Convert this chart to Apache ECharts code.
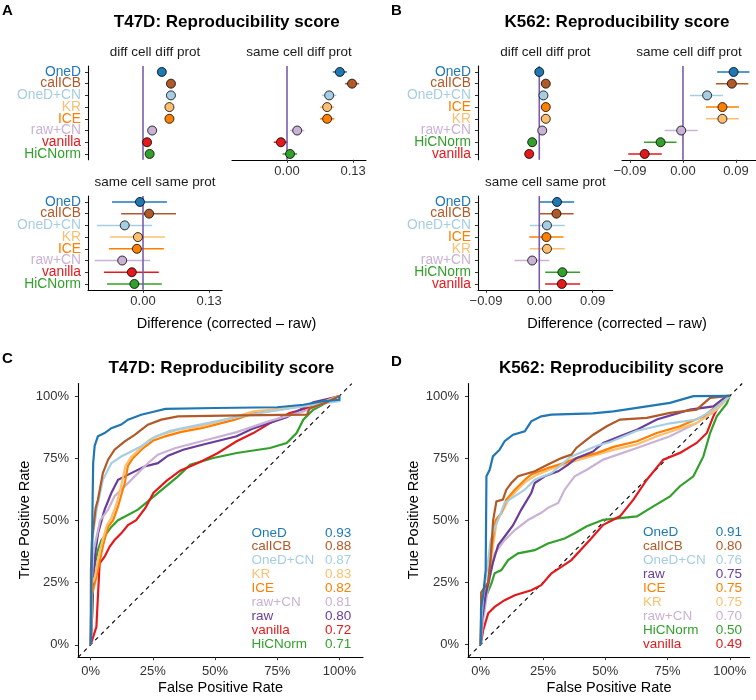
<!DOCTYPE html>
<html>
<head>
<meta charset="utf-8">
<script src="https://cdn.jsdelivr.net/npm/echarts@6.0.0/dist/echarts.min.js"></script>
<style>
  html, body { margin: 0; padding: 0; background: #fff; }
  #chart { width: 756px; height: 700px; }
</style>
</head>
<body>
<div id="chart"></div>
<script>
const FONT = '"Liberation Sans", Arial, sans-serif'

// colours per method (style, not data)
const methodColor = {
  'OneD': '#1f78b4', 'calICB': '#b15928', 'OneD+CN': '#a6cee3', 'KR': '#fdbf6f',
  'ICE': '#ff7f00', 'raw+CN': '#cab2d6', 'raw': '#6a3d9a', 'vanilla': '#e31a1c', 'HiCNorm': '#33a02c'
}

// ---- panel A : T47D differences ----
const aCats = ['OneD', 'calICB', 'OneD+CN', 'KR', 'ICE', 'raw+CN', 'vanilla', 'HiCNorm']
const aDiffDiff = [0.037, 0.055, 0.055, 0.052, 0.052, 0.018, 0.008, 0.013]
const aSameDiff = [0.104, 0.128, 0.083, 0.079, 0.079, 0.020, -0.012, 0.006]
const aSameDiffLo = [0.090, 0.114, 0.069, 0.065, 0.065, 0.006, -0.026, -0.009]
const aSameDiffHi = [0.118, 0.142, 0.097, 0.093, 0.093, 0.034, 0.002, 0.020]
const aSameSame = [-0.006, 0.012, -0.036, -0.010, -0.012, -0.041, -0.022, -0.017]
const aSameSameLo = [-0.061, -0.043, -0.091, -0.065, -0.067, -0.095, -0.077, -0.071]
const aSameSameHi = [0.047, 0.065, 0.018, 0.043, 0.041, 0.014, 0.031, 0.037]
const aTicks = [0, 0.13]

// ---- panel B : K562 differences ----
const bCats = ['OneD', 'calICB', 'OneD+CN', 'ICE', 'KR', 'raw+CN', 'HiCNorm', 'vanilla']
const bDiffDiff = [0.000, 0.011, 0.007, 0.011, 0.011, 0.005, -0.012, -0.017]
const bSameDiff = [0.086, 0.083, 0.041, 0.067, 0.067, -0.003, -0.038, -0.065]
const bSameDiffLo = [0.058, 0.056, 0.012, 0.039, 0.039, -0.031, -0.066, -0.093]
const bSameDiffHi = [0.113, 0.111, 0.068, 0.095, 0.095, 0.025, -0.011, -0.036]
const bSameSame = [0.030, 0.029, 0.013, 0.012, 0.013, -0.012, 0.039, 0.038]
const bSameSameLo = [0.000, 0.000, -0.016, -0.017, -0.016, -0.042, 0.010, 0.010]
const bSameSameHi = [0.059, 0.058, 0.043, 0.041, 0.043, 0.017, 0.069, 0.069]
const bTicks = [-0.09, 0, 0.09]

// ---- panel C : T47D ROC curves [fpr, tpr] ----
const cOneD = [[0,0],[0.004,0.30],[0.008,0.60],[0.010,0.73],[0.016,0.80],[0.029,0.838],[0.056,0.851],[0.083,0.871],[0.123,0.885],[0.15,0.905],[0.203,0.925],[0.257,0.938],[0.30,0.948],[0.5,0.952],[0.75,0.955],[0.855,0.965],[0.935,0.979],[1.0,0.985],[1,1]]
const cCalICB = [[0,0],[0.001,0.30],[0.005,0.42],[0.02,0.55],[0.029,0.583],[0.049,0.69],[0.07,0.744],[0.096,0.784],[0.137,0.818],[0.177,0.844],[0.23,0.885],[0.284,0.905],[0.351,0.918],[0.6,0.922],[0.87,0.925],[0.88,0.95],[0.95,0.975],[1,1]]
const cOneDCN = [[0,0],[0.003,0.25],[0.01,0.45],[0.025,0.55],[0.04,0.62],[0.049,0.663],[0.083,0.73],[0.123,0.757],[0.163,0.777],[0.203,0.798],[0.257,0.835],[0.32,0.86],[0.391,0.875],[0.5,0.897],[0.587,0.915],[0.721,0.938],[0.855,0.958],[0.97,0.975],[1,0.98],[1,1]]
const cKR = [[0,0],[0.003,0.24],[0.017,0.273],[0.029,0.34],[0.045,0.41],[0.065,0.48],[0.083,0.51],[0.105,0.57],[0.125,0.65],[0.14,0.72],[0.163,0.755],[0.2,0.79],[0.237,0.825],[0.284,0.845],[0.351,0.865],[0.453,0.88],[0.587,0.918],[0.654,0.938],[0.788,0.952],[0.922,0.972],[1,1]]
const cICE = [[0,0],[0.005,0.2],[0.023,0.273],[0.035,0.33],[0.05,0.40],[0.07,0.474],[0.09,0.50],[0.11,0.556],[0.137,0.65],[0.15,0.72],[0.17,0.75],[0.21,0.79],[0.25,0.82],[0.3,0.838],[0.36,0.855],[0.45,0.872],[0.58,0.905],[0.654,0.93],[0.788,0.95],[0.922,0.97],[1,1]]
const cRawCN = [[0,0],[0.003,0.06],[0.005,0.25],[0.009,0.367],[0.038,0.5],[0.07,0.543],[0.096,0.597],[0.15,0.65],[0.23,0.73],[0.27,0.764],[0.338,0.79],[0.453,0.82],[0.587,0.855],[0.721,0.9],[0.855,0.938],[0.96,0.98],[1,1]]
const cRaw = [[0,0],[0.004,0.07],[0.01,0.25],[0.02,0.38],[0.03,0.45],[0.056,0.543],[0.083,0.61],[0.11,0.663],[0.163,0.69],[0.217,0.717],[0.27,0.73],[0.311,0.76],[0.372,0.784],[0.453,0.805],[0.587,0.838],[0.654,0.87],[0.788,0.915],[0.895,0.975],[0.96,0.99],[1,1]]
const cVanilla = [[0,0],[0.003,0.006],[0.023,0.072],[0.029,0.193],[0.036,0.327],[0.056,0.354],[0.076,0.394],[0.096,0.421],[0.123,0.448],[0.15,0.481],[0.183,0.501],[0.22,0.55],[0.252,0.61],[0.306,0.66],[0.36,0.70],[0.44,0.735],[0.51,0.77],[0.587,0.818],[0.654,0.851],[0.721,0.891],[0.80,0.932],[0.895,0.958],[0.975,0.99],[1,1]]
const cHiCNorm = [[0,0],[0.005,0.1],[0.012,0.3],[0.029,0.381],[0.043,0.42],[0.083,0.474],[0.11,0.501],[0.19,0.543],[0.27,0.61],[0.351,0.677],[0.40,0.724],[0.493,0.751],[0.587,0.771],[0.721,0.791],[0.788,0.811],[0.828,0.851],[0.855,0.905],[0.895,0.945],[0.96,0.98],[1,1]]
const cLegend = ['OneD', 'calICB', 'OneD+CN', 'KR', 'ICE', 'raw+CN', 'raw', 'vanilla', 'HiCNorm']
const cAuc = [0.93, 0.88, 0.87, 0.83, 0.82, 0.81, 0.80, 0.72, 0.71]

// ---- panel D : K562 ROC curves [fpr, tpr] ----
const dOneD = [[0,0],[0.002,0.15],[0.01,0.2],[0.02,0.3],[0.023,0.677],[0.036,0.703],[0.049,0.757],[0.076,0.784],[0.096,0.818],[0.13,0.844],[0.177,0.858],[0.203,0.898],[0.243,0.918],[0.284,0.925],[0.45,0.93],[0.533,0.938],[0.627,0.952],[0.76,0.972],[0.854,0.999],[1,1]]
const dCalICB = [[0,0],[0.002,0.21],[0.03,0.25],[0.04,0.35],[0.05,0.5],[0.063,0.576],[0.089,0.583],[0.103,0.623],[0.123,0.65],[0.15,0.677],[0.217,0.697],[0.27,0.724],[0.324,0.75],[0.364,0.764],[0.384,0.791],[0.426,0.824],[0.452,0.844],[0.506,0.878],[0.559,0.905],[0.667,0.912],[0.76,0.932],[0.867,0.945],[0.921,0.992],[1,1]]
const dOneDCN = [[0,0],[0.003,0.1],[0.01,0.2],[0.025,0.3],[0.04,0.42],[0.06,0.48],[0.076,0.516],[0.096,0.57],[0.137,0.597],[0.177,0.623],[0.217,0.663],[0.284,0.69],[0.36,0.755],[0.466,0.8],[0.52,0.815],[0.627,0.86],[0.76,0.89],[0.867,0.905],[0.934,0.945],[1,1]]
const dRaw = [[0,0],[0.005,0.1],[0.02,0.2],[0.036,0.273],[0.049,0.33],[0.07,0.4],[0.1,0.44],[0.13,0.48],[0.163,0.543],[0.203,0.61],[0.217,0.65],[0.257,0.677],[0.311,0.697],[0.351,0.724],[0.384,0.75],[0.452,0.777],[0.492,0.811],[0.559,0.838],[0.627,0.864],[0.707,0.905],[0.84,0.945],[0.934,0.958],[0.975,0.99],[1,1]]
const dICE = [[0,0],[0.003,0.18],[0.03,0.25],[0.045,0.4],[0.06,0.5],[0.083,0.53],[0.103,0.583],[0.137,0.623],[0.177,0.663],[0.203,0.684],[0.27,0.71],[0.337,0.731],[0.384,0.75],[0.466,0.77],[0.533,0.795],[0.627,0.818],[0.707,0.851],[0.80,0.878],[0.894,0.918],[0.961,0.97],[1,1]]
const dKR = [[0,0],[0.003,0.15],[0.03,0.24],[0.05,0.4],[0.065,0.5],[0.09,0.54],[0.11,0.58],[0.14,0.615],[0.18,0.655],[0.22,0.68],[0.28,0.705],[0.35,0.73],[0.4,0.745],[0.47,0.765],[0.54,0.785],[0.627,0.805],[0.707,0.838],[0.867,0.891],[0.94,0.94],[1,1]]
const dRawCN = [[0,0],[0.01,0.1],[0.03,0.233],[0.056,0.367],[0.096,0.42],[0.137,0.461],[0.19,0.501],[0.243,0.53],[0.27,0.55],[0.311,0.57],[0.337,0.623],[0.377,0.677],[0.426,0.703],[0.492,0.744],[0.627,0.791],[0.76,0.838],[0.867,0.891],[0.948,0.945],[1,1]]
const dHiCNorm = [[0,0],[0.003,0.1],[0.016,0.18],[0.043,0.246],[0.056,0.287],[0.083,0.3],[0.11,0.34],[0.15,0.367],[0.217,0.38],[0.27,0.407],[0.337,0.427],[0.377,0.448],[0.426,0.476],[0.492,0.502],[0.627,0.516],[0.693,0.556],[0.76,0.596],[0.80,0.637],[0.854,0.677],[0.894,0.757],[0.921,0.851],[0.948,0.918],[0.988,0.97],[1,1]]
const dVanilla = [[0,0],[0.01,0.058],[0.03,0.126],[0.056,0.152],[0.096,0.179],[0.137,0.199],[0.203,0.219],[0.243,0.239],[0.284,0.287],[0.324,0.313],[0.364,0.34],[0.439,0.422],[0.492,0.482],[0.559,0.516],[0.613,0.583],[0.667,0.663],[0.733,0.744],[0.80,0.771],[0.867,0.811],[0.908,0.851],[0.934,0.918],[0.961,0.972],[0.988,1.0],[1,1]]
const dLegend = ['OneD', 'calICB', 'OneD+CN', 'raw', 'ICE', 'KR', 'raw+CN', 'HiCNorm', 'vanilla']
const dAuc = [0.91, 0.80, 0.76, 0.75, 0.75, 0.75, 0.70, 0.50, 0.49]

const rocTicks = [0, 0.25, 0.5, 0.75, 1]

const grids = []
const xAxes = []
const yAxes = []
const series = []

const addGrid = (box) => {
  grids.push(Object.assign({ containLabel: false, outerBoundsMode: 'none' }, box))
  return grids.length - 1
}

const fmtDiff = (v) => {
  const s = Math.abs(v).toFixed(2)
  return v < -1e-9 ? '\u2212' + s : s
}

const axisLineStyle = { color: '#000', width: 1.1 }
const tickStyle = { color: '#333', width: 1 }

// 点图面板（误差线 + 0 参考线 + 点）
const dotPanel = (box, cats, mid, lo, hi, range, ticks, showX, showY) => {
  const gi = addGrid(box)
  xAxes.push({
    gridIndex: gi, type: 'value', min: range[0], max: range[1], show: showX,
    axisLine: { show: true, onZero: false, lineStyle: axisLineStyle },
    axisTick: { show: true, length: 3, customValues: ticks, lineStyle: tickStyle },
    axisLabel: { customValues: ticks, formatter: fmtDiff, color: '#333', fontSize: 13, fontFamily: FONT, margin: 5 },
    splitLine: { show: false }
  })
  yAxes.push({
    gridIndex: gi, type: 'category', data: cats, inverse: true, show: showY,
    axisLine: { show: true, onZero: false, lineStyle: axisLineStyle },
    axisTick: { show: true, alignWithLabel: true, interval: 0, length: 3, lineStyle: tickStyle },
    axisLabel: { interval: 0, color: (v) => methodColor[v], fontSize: 13.8, fontFamily: FONT, margin: 7 },
    splitLine: { show: false }
  })
  const ai = xAxes.length - 1
  if (lo) {
    series.push({
      type: 'custom', xAxisIndex: ai, yAxisIndex: ai, silent: true, z: 2,
      data: cats.map((c, i) => [lo[i], hi[i], i]),
      encode: { x: [0, 1], y: 2 },
      renderItem: (params, api) => {
        const p1 = api.coord([api.value(0), api.value(2)])
        const p2 = api.coord([api.value(1), api.value(2)])
        return {
          type: 'line',
          shape: { x1: p1[0], y1: p1[1], x2: p2[0], y2: p2[1] },
          style: { stroke: methodColor[cats[params.dataIndex]], lineWidth: 1.5 }
        }
      }
    })
  }
  // 0 参考线
  series.push({
    type: 'custom', xAxisIndex: ai, yAxisIndex: ai, silent: true, z: 3,
    data: [[0, 0]],
    encode: { x: 0, y: 1 },
    renderItem: (params, api) => {
      const cs = params.coordSys
      const x = api.coord([0, 0])[0]
      return {
        type: 'line',
        shape: { x1: x, y1: cs.y, x2: x, y2: cs.y + cs.height },
        style: { stroke: '#7a5cad', lineWidth: 1.6 }
      }
    }
  })
  series.push({
    type: 'scatter', xAxisIndex: ai, yAxisIndex: ai, z: 4, silent: true,
    symbolSize: 9,
    data: cats.map((c, i) => ({ value: [mid[i], i], itemStyle: { color: methodColor[c] } })),
    itemStyle: { borderColor: '#000', borderWidth: 0.8, opacity: 1 }
  })
}

const pct = (v) => Math.round(v * 100) + '%'

// ROC 面板
const rocPanel = (box, xRange, curves, legNames, auc, legX) => {
  const gi = addGrid(box)
  xAxes.push({
    gridIndex: gi, type: 'value', min: xRange[0], max: xRange[1],
    axisLine: { show: true, onZero: false, lineStyle: axisLineStyle },
    axisTick: { show: true, length: 3, customValues: rocTicks, lineStyle: tickStyle },
    axisLabel: { customValues: rocTicks, formatter: pct, color: '#333', fontSize: 13, fontFamily: FONT, margin: 8 },
    splitLine: { show: false }
  })
  yAxes.push({
    gridIndex: gi, type: 'value', min: -0.05, max: 1.05,
    axisLine: { show: true, onZero: false, lineStyle: axisLineStyle },
    axisTick: { show: true, length: 3, customValues: rocTicks, lineStyle: tickStyle },
    axisLabel: { customValues: rocTicks, formatter: pct, color: '#333', fontSize: 13, fontFamily: FONT, margin: 9 },
    splitLine: { show: false }
  })
  const ai = xAxes.length - 1
  series.push({
    type: 'line', xAxisIndex: ai, yAxisIndex: ai, silent: true, z: 1,
    showSymbol: false, symbol: 'none',
    data: [[-0.05, -0.05], [1.05, 1.05]],
    lineStyle: { color: '#000', width: 1.1, type: [4, 4] }
  })
  curves.forEach(([name, pts], k) => {
    series.push({
      type: 'line', xAxisIndex: ai, yAxisIndex: ai, silent: true, z: 2 + k,
      showSymbol: false, symbol: 'none',
      data: pts,
      lineStyle: { color: methodColor[name], width: 2.2, join: 'miter' }
    })
  })
  // 图例文字（名称 + AUC）
  const legTop = 0.45
  const legStep = 0.0559
  series.push({
    type: 'custom', xAxisIndex: ai, yAxisIndex: ai, silent: true, z: 20,
    data: legNames.map((n, i) => [legX[0], legTop - i * legStep, legX[1]]),
    encode: { x: 0, y: 1 },
    renderItem: (params, api) => {
      const i = params.dataIndex
      const name = legNames[i]
      const p = api.coord([api.value(0), api.value(1)])
      const q = api.coord([api.value(2), api.value(1)])
      const st = { fill: methodColor[name], fontSize: 13.5, fontFamily: FONT, align: 'left', verticalAlign: 'middle' }
      return {
        type: 'group',
        children: [
          { type: 'text', x: p[0], y: p[1], style: Object.assign({ text: name }, st) },
          { type: 'text', x: q[0], y: q[1], style: Object.assign({ text: auc[i].toFixed(2) }, st) }
        ]
      }
    }
  })
}

const aRange = [-0.1083, 0.1555]
const bRange = [-0.1035, 0.124]
const rowH = 93.7

dotPanel({ left: 88, top: 66.1, width: 134, height: rowH }, aCats, aDiffDiff, null, null, aRange, aTicks, false, true)
dotPanel({ left: 232, top: 66.1, width: 134, height: rowH }, aCats, aSameDiff, aSameDiffLo, aSameDiffHi, aRange, aTicks, true, false)
dotPanel({ left: 88, top: 196.1, width: 134, height: rowH }, aCats, aSameSame, aSameSameLo, aSameSameHi, aRange, aTicks, true, true)

dotPanel({ left: 478, top: 66.1, width: 134.7, height: rowH }, bCats, bDiffDiff, null, null, bRange, bTicks, false, true)
dotPanel({ left: 622, top: 66.1, width: 134, height: rowH }, bCats, bSameDiff, bSameDiffLo, bSameDiffHi, bRange, bTicks, true, false)
dotPanel({ left: 478, top: 196.1, width: 134.7, height: rowH }, bCats, bSameSame, bSameSameLo, bSameSameHi, bRange, bTicks, true, true)

rocPanel({ left: 78, top: 383.6, width: 285, height: 273.6 }, [-0.051, 1.095],
  [['HiCNorm', cHiCNorm], ['vanilla', cVanilla], ['raw', cRaw], ['raw+CN', cRawCN], ['ICE', cICE], ['KR', cKR],
   ['OneD+CN', cOneDCN], ['calICB', cCalICB], ['OneD', cOneD]],
  cLegend, cAuc, [0.647, 0.942])

rocPanel({ left: 468, top: 383.5, width: 281.7, height: 273.6 }, [-0.051, 1.08],
  [['HiCNorm', dHiCNorm], ['vanilla', dVanilla], ['raw+CN', dRawCN], ['KR', dKR], ['ICE', dICE], ['raw', dRaw],
   ['OneD+CN', dOneDCN], ['calICB', dCalICB], ['OneD', dOneD]],
  dLegend, dAuc, [0.652, 0.944])

const txt = (x, y, text, size, extra) => ({
  type: 'text', x, y, silent: true,
  style: Object.assign({ text, fontSize: size, fontFamily: FONT, fill: '#000', align: 'center', verticalAlign: 'middle' }, extra || {})
})

const graphic = [
  txt(2, 3, 'A', 15, { fontWeight: 'bold', align: 'left', verticalAlign: 'top' }),
  txt(391, 3, 'B', 15, { fontWeight: 'bold', align: 'left', verticalAlign: 'top' }),
  txt(2, 351, 'C', 15, { fontWeight: 'bold', align: 'left', verticalAlign: 'top' }),
  txt(391, 354, 'D', 15, { fontWeight: 'bold', align: 'left', verticalAlign: 'top' }),
  txt(226.7, 22.5, 'T47D: Reproducibility score', 17, { fontWeight: 'bold' }),
  txt(617, 22.5, 'K562: Reproducibility score', 17, { fontWeight: 'bold' }),
  txt(221.3, 368.3, 'T47D: Reproducibility score', 17, { fontWeight: 'bold' }),
  txt(611.3, 368.3, 'K562: Reproducibility score', 17, { fontWeight: 'bold' }),
  txt(155, 52.5, 'diff cell diff prot', 13.5, { fill: '#1a1a1a' }),
  txt(299, 52.5, 'same cell diff prot', 13.5, { fill: '#1a1a1a' }),
  txt(155, 182.5, 'same cell same prot', 13.5, { fill: '#1a1a1a' }),
  txt(545.4, 52.5, 'diff cell diff prot', 13.5, { fill: '#1a1a1a' }),
  txt(689, 52.5, 'same cell diff prot', 13.5, { fill: '#1a1a1a' }),
  txt(545.4, 182.5, 'same cell same prot', 13.5, { fill: '#1a1a1a' }),
  txt(226.5, 323.5, 'Difference (corrected \u2013 raw)', 14.5),
  txt(617, 323.5, 'Difference (corrected \u2013 raw)', 14.5),
  txt(220.5, 688, 'False Positive Rate', 14.5),
  txt(609, 688, 'False Positive Rate', 14.5),
  Object.assign(txt(25, 520, 'True Positive Rate', 14.5), { rotation: Math.PI / 2 }),
  Object.assign(txt(414, 520, 'True Positive Rate', 14.5), { rotation: Math.PI / 2 })
]

const chart = echarts.init(document.getElementById('chart'), null, { renderer: 'canvas' })
chart.setOption({
  backgroundColor: '#fff',
  animation: false,
  textStyle: { fontFamily: FONT },
  grid: grids,
  xAxis: xAxes,
  yAxis: yAxes,
  series,
  graphic
})
</script>
</body>
</html>
